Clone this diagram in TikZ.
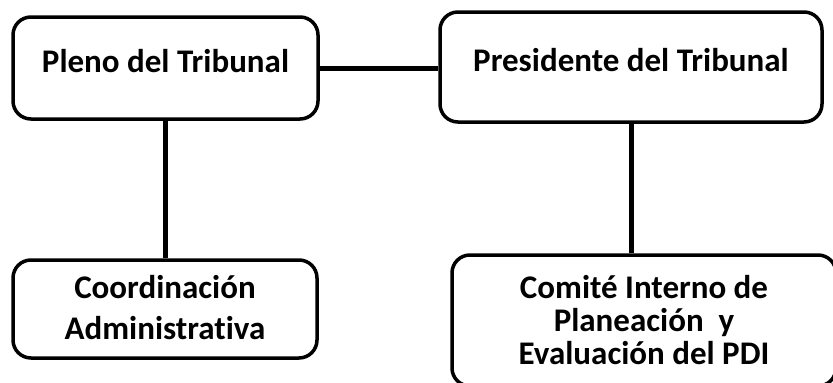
\documentclass[tikz,border=0pt]{standalone}
\usepackage{fontspec}
\setmainfont[Ligatures=NoCommon]{Carlito}
\usetikzlibrary{positioning}

\begin{document}
\begin{tikzpicture}[
    x=1pt, y=1pt,
    unit/.style={rectangle, draw, rounded corners=18pt, line width=3.5pt, align=center, inner sep=0pt, font=\bfseries\fontsize{33}{41}\selectfont},
    link/.style={line width=5pt}
]
    \useasboundingbox (0,0) rectangle (833,-383);

    \node[unit, minimum width=305pt, minimum height=102pt, text depth=14pt] (pleno) at (165.5,-68) {Pleno del Tribunal};
    \node[unit, minimum width=382pt, minimum height=110pt, text depth=14pt] (presidente) at (631,-67) {Presidente del Tribunal};
    \node[unit, minimum width=304pt, minimum height=98pt, text depth=4pt] (coordinacion) at (165,-309) {Coordinación\\Administrativa};
    \node[unit, minimum width=384pt, minimum height=131pt, font=\bfseries\fontsize{33}{33}\selectfont] (comite) at (644,-320.5) {Comité Interno de\\Planeación~ y\\Evaluación del PDI};

    \draw[link] (pleno.east) -- (pleno.east -| presidente.west);
    \draw[link] (pleno.south) -- (pleno.south |- coordinacion.north);
    \draw[link] (presidente.south) -- (presidente.south |- comite.north);
\end{tikzpicture}
\end{document}
